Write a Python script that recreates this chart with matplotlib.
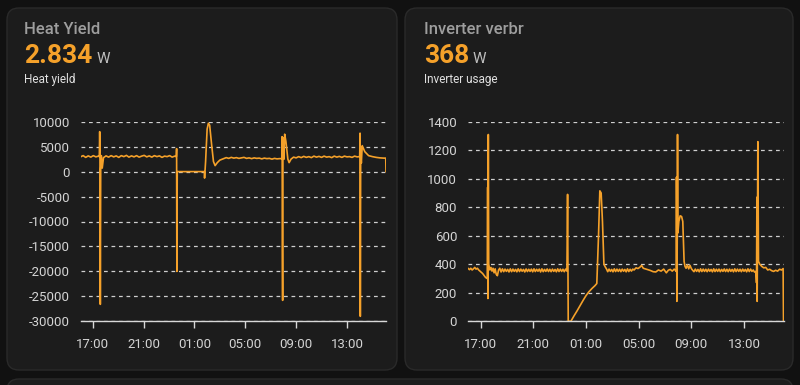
import matplotlib
matplotlib.use("Agg")
import matplotlib.pyplot as plt
from matplotlib.patches import FancyBboxPatch

# --- data (hours since midnight of day 1; 24+ = next day) ---
HEAT_HOURS = [
    16.08, 16.25, 16.45, 16.65, 16.85, 17.05, 17.25, 17.45, 17.52, 17.55,
    17.57, 17.60, 17.63, 17.68, 17.75, 17.85, 18.05, 18.25, 18.45, 18.65,
    18.85, 19.05, 19.25, 19.45, 19.65, 19.85, 20.05, 20.25, 20.45, 20.65,
    20.85, 21.05, 21.25, 21.45, 21.65, 21.85, 22.05, 22.25, 22.45, 22.65,
    22.85, 23.05, 23.25, 23.45, 23.58, 23.60, 23.62, 23.65, 25.78, 25.80,
    25.88, 26.00, 26.10, 26.20, 26.37, 26.50, 26.63, 26.80, 27.00, 27.30,
    27.50, 27.70, 27.90, 28.10, 28.30, 28.50, 28.70, 28.90, 29.10, 29.30,
    29.50, 29.70, 29.90, 30.10, 30.30, 30.50, 30.70, 30.90, 31.10, 31.30,
    31.50, 31.70, 31.88, 31.90, 31.92, 31.94, 31.96, 32.00, 32.05, 32.10,
    32.20, 32.35, 32.45, 32.60, 32.80, 33.00, 33.20, 33.40, 33.60, 33.80,
    34.00, 34.20, 34.40, 34.60, 34.80, 35.00, 35.20, 35.40, 35.60, 35.80,
    36.00, 36.20, 36.40, 36.60, 36.80, 37.00, 37.20, 37.40, 37.60, 37.80,
    38.00, 38.03, 38.05, 38.08, 38.10, 38.13, 38.20, 38.40, 38.70, 39.00,
    39.30, 39.60, 39.90, 40.05, 40.07,
]
HEAT_WATTS = [
    3000, 3200, 2850, 3150, 2900, 3200, 2950, 3100, 3000, 8000,
    4800, -26600, 500, 3200, 700, 2800, 3150, 2900, 3200, 2950,
    3150, 2850, 3200, 3000, 3250, 2900, 3150, 2950, 3200, 2900,
    3100, 3250, 2950, 3150, 2900, 3200, 3000, 3150, 2850, 3100,
    3000, 3200, 2900, 3100, 3000, 4600, -20000, 0, 0, -1300,
    2000, 8500, 9700, 9300, 5000, 2000, 1200, 1800, 2300, 2600,
    2800, 2650, 2850, 2700, 2800, 2650, 2750, 2850, 2650, 2750,
    2600, 2750, 2650, 2700, 2550, 2700, 2600, 2650, 2500, 2650,
    2550, 2600, 2600, 7000, -16000, -25800, 2000, 6800, 2500, 7500,
    6000, 2500, 1800, 2500, 2900, 2750, 3000, 2800, 3050, 2850,
    3000, 2800, 3100, 2900, 3050, 2850, 3100, 2900, 3000, 2800,
    3100, 2900, 3050, 2850, 3100, 2950, 3000, 2850, 3100, 2950,
    3000, 7700, -29000, 5000, 3000, 1700, 5200, 4000, 3200, 3000,
    2850, 2750, 2700, 2700, 0,
]

INV_HOURS = [
    16.06, 16.15, 16.25, 16.35, 16.45, 16.55, 16.65, 16.75, 16.85, 16.95,
    17.05, 17.15, 17.25, 17.35, 17.45, 17.50, 17.53, 17.55, 17.58, 17.61,
    17.64, 17.70, 17.78, 17.86, 17.94, 18.02, 18.10, 18.18, 18.27, 18.36,
    18.45, 18.55, 18.65, 18.75, 18.85, 18.95, 19.05, 19.15, 19.25, 19.35,
    19.45, 19.55, 19.65, 19.75, 19.85, 19.95, 20.05, 20.15, 20.25, 20.35,
    20.45, 20.55, 20.65, 20.75, 20.85, 20.95, 21.05, 21.15, 21.25, 21.35,
    21.45, 21.55, 21.65, 21.75, 21.85, 21.95, 22.05, 22.15, 22.25, 22.35,
    22.45, 22.55, 22.65, 22.75, 22.85, 22.95, 23.05, 23.15, 23.25, 23.35,
    23.45, 23.55, 23.60, 23.65, 23.72, 23.85, 24.10, 24.30, 24.55, 24.80,
    25.00, 25.20, 25.45, 25.68, 25.82, 25.95, 26.05, 26.15, 26.25, 26.36,
    26.47, 26.55, 26.65, 26.75, 26.85, 26.95, 27.05, 27.15, 27.25, 27.35,
    27.45, 27.55, 27.65, 27.75, 27.85, 27.95, 28.05, 28.15, 28.25, 28.35,
    28.45, 28.55, 28.65, 28.80, 28.95, 29.10, 29.22, 29.35, 29.50, 29.70,
    29.90, 30.10, 30.30, 30.50, 30.70, 30.90, 31.10, 31.25, 31.40, 31.55,
    31.70, 31.82, 31.85, 31.87, 31.88, 31.90, 31.93, 31.95, 31.98, 32.05,
    32.15, 32.26, 32.35, 32.45, 32.52, 32.60, 32.70, 32.80, 32.90, 33.00,
    33.10, 33.20, 33.30, 33.40, 33.50, 33.60, 33.70, 33.80, 33.90, 34.00,
    34.10, 34.20, 34.30, 34.40, 34.50, 34.60, 34.70, 34.80, 34.90, 35.00,
    35.10, 35.20, 35.30, 35.40, 35.50, 35.60, 35.70, 35.80, 35.90, 36.00,
    36.10, 36.20, 36.30, 36.40, 36.50, 36.60, 36.70, 36.80, 36.90, 37.00,
    37.10, 37.20, 37.30, 37.40, 37.50, 37.60, 37.70, 37.80, 37.90, 37.95,
    37.98, 38.00, 38.05, 38.10, 38.20, 38.35, 38.50, 38.65, 38.80, 38.95,
    39.10, 39.25, 39.40, 39.55, 39.70, 39.85, 39.97, 40.00,
]
INV_WATTS = [
    370, 362, 372, 360, 368, 378, 366, 372, 360, 352,
    345, 335, 322, 310, 302, 300, 940, 160, 1310, 400,
    385, 360, 378, 352, 372, 340, 368, 330, 320, 360,
    372, 346, 368, 348, 366, 350, 364, 346, 368, 348,
    366, 350, 364, 347, 368, 349, 366, 351, 364, 346,
    367, 349, 365, 350, 366, 347, 368, 349, 365, 351,
    366, 346, 368, 348, 364, 350, 367, 349, 365, 348,
    366, 350, 364, 347, 368, 349, 366, 350, 365, 348,
    366, 352, 890, 0, 0, 0, 40, 70, 110, 150,
    180, 205, 230, 250, 265, 600, 915, 900, 700, 400,
    380, 368, 348, 366, 350, 364, 347, 368, 349, 366,
    350, 365, 348, 366, 351, 364, 347, 368, 349, 365,
    352, 366, 360, 375, 370, 380, 392, 372, 368, 362,
    356, 348, 346, 360, 352, 366, 340, 358, 364, 352,
    366, 355, 350, 1010, 850, 140, 600, 1310, 620, 700,
    740, 735, 700, 420, 385, 372, 395, 368, 392, 370,
    358, 348, 366, 350, 364, 347, 368, 349, 366, 350,
    365, 348, 366, 351, 364, 347, 368, 349, 365, 350,
    366, 348, 364, 350, 367, 349, 365, 348, 366, 350,
    364, 347, 368, 349, 366, 350, 365, 348, 366, 351,
    364, 347, 368, 349, 366, 350, 360, 345, 350, 270,
    870, 140, 1260, 420, 400, 385, 375, 378, 360, 365,
    355, 350, 358, 352, 365, 360, 370, 0,
]

TICK_HOURS = [17, 21, 25, 29, 33, 37]
TICK_LABELS = ["17:00", "21:00", "01:00", "05:00", "09:00", "13:00"]

plt.rcParams["font.family"] = ["Roboto", "DejaVu Sans"]
plt.rcParams["axes.unicode_minus"] = False

BG = "#111111"
CARD = "#1c1c1c"
EDGE = "#2a2a2a"
ORANGE = "#f5a12a"
GRID = "#cfcfcf"
TXT = "#d4d4d4"

fig = plt.figure(figsize=(8, 3.85), dpi=100, facecolor=BG)

# background layer in pixel coordinates for cards and header text
bg = fig.add_axes([0, 0, 1, 1], zorder=0)
bg.set_xlim(0, 800)
bg.set_ylim(385, 0)
bg.axis("off")

for x0, w in [(7, 390), (405, 388)]:
    bg.add_patch(FancyBboxPatch((x0, 8), w, 362, boxstyle="round,pad=0,rounding_size=12",
                                facecolor=CARD, edgecolor=EDGE, linewidth=1))
bg.add_patch(FancyBboxPatch((7, 379), 786, 40, boxstyle="round,pad=0,rounding_size=12",
                            facecolor=CARD, edgecolor=EDGE, linewidth=1))

cards = [
    (24, "Heat Yield", "2.834", 97, "Heat yield"),
    (424, "Inverter verbr", "368", 473, "Inverter usage"),
]
for x, title, value, wx, sub in cards:
    bg.text(x, 34, title, color="#9e9e9e", fontsize=12, fontweight="medium", va="baseline")
    bg.text(x, 63, value, color=ORANGE, fontsize=19, fontweight="bold", va="baseline")
    bg.text(wx, 63, "W", color="#bdbdbd", fontsize=11, va="baseline")
    bg.text(x, 83, sub, color="#e0e0e0", fontsize=8.5, va="baseline")


def style_axis(ax, xlim, ylim, yticks):
    ax.set_facecolor("none")
    ax.set_xlim(*xlim)
    ax.set_ylim(*ylim)
    ax.set_yticks(yticks)
    ax.set_xticks(TICK_HOURS)
    ax.set_xticklabels(TICK_LABELS)
    for s in ["left", "top", "right"]:
        ax.spines[s].set_visible(False)
    ax.spines["bottom"].set_color("#d8d8d8")
    ax.spines["bottom"].set_linewidth(1)
    ax.tick_params(axis="x", direction="out", length=5, width=1, color="#d8d8d8",
                   labelcolor=TXT, labelsize=9.5, pad=7)
    ax.tick_params(axis="y", length=0, labelcolor=TXT, labelsize=9.5, pad=8)
    ax.grid(axis="y", color=GRID, linestyle=(0, (3, 3)), linewidth=0.9)
    ax.grid(axis="x", visible=False)
    ax.set_axisbelow(True)


ax1 = fig.add_axes([81 / 800, 1 - 321.3 / 385, 305 / 800, 199.6 / 385], zorder=1)
ax1.plot(HEAT_HOURS, HEAT_WATTS, color=ORANGE, linewidth=1.2)
style_axis(ax1, (16.08, 40.07), (-30000, 10000), list(range(-30000, 10001, 5000)))

ax2 = fig.add_axes([468.3 / 800, 1 - 321.3 / 385, 316 / 800, 199.6 / 385], zorder=1)
ax2.plot(INV_HOURS, INV_WATTS, color=ORANGE, linewidth=1.2)
style_axis(ax2, (16.06, 40.06), (0, 1400), list(range(0, 1401, 200)))

fig.savefig("out.png", dpi=100, facecolor=BG)
